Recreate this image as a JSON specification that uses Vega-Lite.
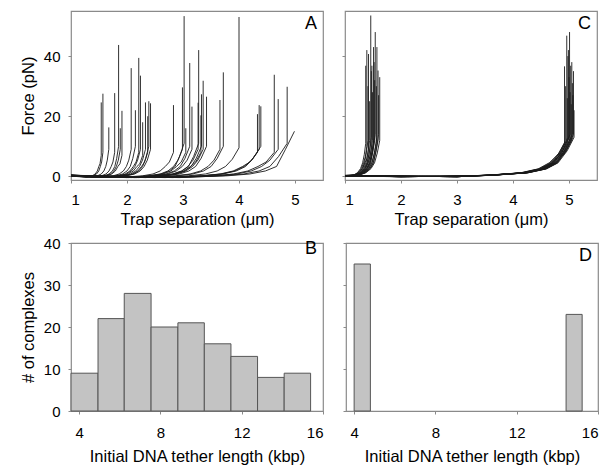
{
"$schema": "https://vega.github.io/schema/vega-lite/v6.json",
"padding": {"left": 19, "top": 10, "right": 5, "bottom": 5},
"config": {
 "font": "Liberation Sans",
 "view": {"stroke": "#8a8a8a", "strokeWidth": 1.2},
 "axis": {"domain": false, "grid": false, "tickColor": "#8a8a8a", "tickSize": 3, "labelFont": "Liberation Sans", "labelFontSize": 15, "labelColor": "#000", "titleFont": "Liberation Sans", "titleFontSize": 16.5, "titleFontWeight": "normal", "titleColor": "#000"},
 "title": {"fontSize": 18, "fontWeight": "normal", "font": "Liberation Sans", "color": "#000", "anchor": "end", "frame": "group", "offset": -22, "dx": -6}
},
"datasets": {
"a": [
{"c":1,"x":1,"f":0.3},{"c":1,"x":1.27,"f":-0.3},{"c":1,"x":1.378,"f":0.2},{"c":1,"x":1.432,"f":0.8},{"c":1,"x":1.47,"f":1.8},{"c":1,"x":1.497,"f":3.3},{"c":1,"x":1.518,"f":4.2},{"c":1,"x":1.54,"f":7},{"c":1,"x":1.54,"f":24.6},
{"c":2,"x":1,"f":0.1},{"c":2,"x":1.285,"f":-0.3},{"c":2,"x":1.399,"f":0.2},{"c":2,"x":1.456,"f":0.8},{"c":2,"x":1.496,"f":1.8},{"c":2,"x":1.524,"f":3.3},{"c":2,"x":1.547,"f":4.8},{"c":2,"x":1.57,"f":8},{"c":2,"x":1.57,"f":27.5},
{"c":3,"x":1,"f":0.4},{"c":3,"x":1.338,"f":-0.2},{"c":3,"x":1.473,"f":0.2},{"c":3,"x":1.54,"f":0.8},{"c":3,"x":1.587,"f":1.8},{"c":3,"x":1.621,"f":3.3},{"c":3,"x":1.648,"f":5.4},{"c":3,"x":1.675,"f":9},{"c":3,"x":1.675,"f":16.3},
{"c":4,"x":1,"f":0.2},{"c":4,"x":1.39,"f":-0.3},{"c":4,"x":1.546,"f":0.2},{"c":4,"x":1.624,"f":0.8},{"c":4,"x":1.679,"f":1.8},{"c":4,"x":1.718,"f":3.3},{"c":4,"x":1.749,"f":4.8},{"c":4,"x":1.78,"f":8},{"c":4,"x":1.78,"f":27.7},
{"c":5,"x":1,"f":0.3},{"c":5,"x":1.425,"f":-0.3},{"c":5,"x":1.595,"f":0.2},{"c":5,"x":1.68,"f":0.8},{"c":5,"x":1.74,"f":1.8},{"c":5,"x":1.782,"f":3.3},{"c":5,"x":1.816,"f":6},{"c":5,"x":1.85,"f":10},{"c":5,"x":1.85,"f":43.7},
{"c":6,"x":1,"f":0.1},{"c":6,"x":1.44,"f":-0.2},{"c":6,"x":1.616,"f":0.2},{"c":6,"x":1.704,"f":0.8},{"c":6,"x":1.766,"f":1.8},{"c":6,"x":1.81,"f":3.3},{"c":6,"x":1.845,"f":5.4},{"c":6,"x":1.88,"f":9},{"c":6,"x":1.88,"f":16},
{"c":7,"x":1,"f":0.4},{"c":7,"x":1.455,"f":-0.3},{"c":7,"x":1.637,"f":0.2},{"c":7,"x":1.728,"f":0.8},{"c":7,"x":1.792,"f":1.8},{"c":7,"x":1.837,"f":3.3},{"c":7,"x":1.874,"f":4.2},{"c":7,"x":1.91,"f":7},{"c":7,"x":1.91,"f":21.8},
{"c":8,"x":1,"f":0.2},{"c":8,"x":1.538,"f":-0.3},{"c":8,"x":1.753,"f":0.2},{"c":8,"x":1.86,"f":0.8},{"c":8,"x":1.935,"f":1.8},{"c":8,"x":1.989,"f":3.3},{"c":8,"x":2.032,"f":5.4},{"c":8,"x":2.075,"f":9},{"c":8,"x":2.075,"f":36},
{"c":9,"x":1,"f":0.3},{"c":9,"x":1.575,"f":-0.2},{"c":9,"x":1.805,"f":0.2},{"c":9,"x":1.92,"f":0.8},{"c":9,"x":2.0,"f":1.8},{"c":9,"x":2.058,"f":3.3},{"c":9,"x":2.104,"f":6},{"c":9,"x":2.15,"f":10},{"c":9,"x":2.15,"f":22},
{"c":10,"x":1,"f":0.1},{"c":10,"x":1.605,"f":-0.3},{"c":10,"x":1.847,"f":0.2},{"c":10,"x":1.968,"f":0.8},{"c":10,"x":2.053,"f":1.8},{"c":10,"x":2.113,"f":3.3},{"c":10,"x":2.162,"f":4.8},{"c":10,"x":2.21,"f":8},{"c":10,"x":2.21,"f":39.4},
{"c":11,"x":1,"f":0.4},{"c":11,"x":1.62,"f":-0.3},{"c":11,"x":1.868,"f":0.2},{"c":11,"x":1.992,"f":0.8},{"c":11,"x":2.079,"f":1.8},{"c":11,"x":2.141,"f":3.3},{"c":11,"x":2.19,"f":5.4},{"c":11,"x":2.24,"f":9},{"c":11,"x":2.24,"f":33.5},
{"c":12,"x":1,"f":0.2},{"c":12,"x":1.64,"f":-0.2},{"c":12,"x":1.896,"f":0.2},{"c":12,"x":2.024,"f":0.8},{"c":12,"x":2.114,"f":1.8},{"c":12,"x":2.178,"f":3.3},{"c":12,"x":2.229,"f":4.2},{"c":12,"x":2.28,"f":7},{"c":12,"x":2.28,"f":18},
{"c":13,"x":1,"f":0.3},{"c":13,"x":1.665,"f":-0.3},{"c":13,"x":1.931,"f":0.2},{"c":13,"x":2.064,"f":0.8},{"c":13,"x":2.157,"f":1.8},{"c":13,"x":2.224,"f":3.3},{"c":13,"x":2.277,"f":5.4},{"c":13,"x":2.33,"f":9},{"c":13,"x":2.33,"f":24.6},
{"c":14,"x":1,"f":0.1},{"c":14,"x":1.685,"f":-0.3},{"c":14,"x":1.959,"f":0.2},{"c":14,"x":2.096,"f":0.8},{"c":14,"x":2.192,"f":1.8},{"c":14,"x":2.26,"f":3.3},{"c":14,"x":2.315,"f":4.8},{"c":14,"x":2.37,"f":8},{"c":14,"x":2.37,"f":20},
{"c":15,"x":1,"f":0.4},{"c":15,"x":1.695,"f":-0.2},{"c":15,"x":1.973,"f":0.2},{"c":15,"x":2.112,"f":0.8},{"c":15,"x":2.209,"f":1.8},{"c":15,"x":2.279,"f":3.3},{"c":15,"x":2.334,"f":6},{"c":15,"x":2.39,"f":10},{"c":15,"x":2.39,"f":25},
{"c":16,"x":1,"f":0.2},{"c":16,"x":1.71,"f":-0.3},{"c":16,"x":1.994,"f":0.2},{"c":16,"x":2.136,"f":0.8},{"c":16,"x":2.235,"f":1.8},{"c":16,"x":2.306,"f":3.3},{"c":16,"x":2.363,"f":5.4},{"c":16,"x":2.42,"f":9},{"c":16,"x":2.42,"f":24.3},
{"c":17,"x":1,"f":0.3},{"c":17,"x":1.915,"f":-0.3},{"c":17,"x":2.281,"f":0.2},{"c":17,"x":2.464,"f":0.8},{"c":17,"x":2.592,"f":1.8},{"c":17,"x":2.684,"f":3.3},{"c":17,"x":2.757,"f":4.8},{"c":17,"x":2.83,"f":8},{"c":17,"x":2.83,"f":23.7},
{"c":18,"x":1,"f":0.1},{"c":18,"x":1.995,"f":-0.4},{"c":18,"x":2.393,"f":0.2},{"c":18,"x":2.592,"f":0.8},{"c":18,"x":2.731,"f":1.8},{"c":18,"x":2.831,"f":3.3},{"c":18,"x":2.91,"f":5.4},{"c":18,"x":2.99,"f":9},{"c":18,"x":2.99,"f":29.6},
{"c":19,"x":1,"f":0.4},{"c":19,"x":2.01,"f":-0.3},{"c":19,"x":2.414,"f":0.2},{"c":19,"x":2.616,"f":0.8},{"c":19,"x":2.757,"f":1.8},{"c":19,"x":2.858,"f":3.3},{"c":19,"x":2.939,"f":6.6},{"c":19,"x":3.02,"f":11},{"c":19,"x":3.02,"f":53.3},
{"c":20,"x":1,"f":0.2},{"c":20,"x":2.025,"f":-0.4},{"c":20,"x":2.435,"f":0.2},{"c":20,"x":2.64,"f":0.8},{"c":20,"x":2.784,"f":1.8},{"c":20,"x":2.886,"f":3.3},{"c":20,"x":2.968,"f":4.8},{"c":20,"x":3.05,"f":8},{"c":20,"x":3.05,"f":16},
{"c":21,"x":1,"f":0.3},{"c":21,"x":2.06,"f":-0.3},{"c":21,"x":2.484,"f":0.2},{"c":21,"x":2.696,"f":0.8},{"c":21,"x":2.844,"f":1.8},{"c":21,"x":2.95,"f":3.3},{"c":21,"x":3.035,"f":6},{"c":21,"x":3.12,"f":10},{"c":21,"x":3.12,"f":37.7},
{"c":22,"x":1,"f":0.1},{"c":22,"x":2.08,"f":-0.4},{"c":22,"x":2.512,"f":0.2},{"c":22,"x":2.728,"f":0.8},{"c":22,"x":2.879,"f":1.8},{"c":22,"x":2.987,"f":3.3},{"c":22,"x":3.074,"f":5.4},{"c":22,"x":3.16,"f":9},{"c":22,"x":3.16,"f":23.2},
{"c":23,"x":1,"f":0.4},{"c":23,"x":2.135,"f":-0.3},{"c":23,"x":2.589,"f":0.2},{"c":23,"x":2.816,"f":0.8},{"c":23,"x":2.975,"f":1.8},{"c":23,"x":3.088,"f":3.3},{"c":23,"x":3.179,"f":5.4},{"c":23,"x":3.27,"f":9},{"c":23,"x":3.27,"f":24.5},
{"c":24,"x":1,"f":0.2},{"c":24,"x":2.14,"f":-0.4},{"c":24,"x":2.596,"f":0.2},{"c":24,"x":2.824,"f":0.8},{"c":24,"x":2.984,"f":1.8},{"c":24,"x":3.098,"f":3.3},{"c":24,"x":3.189,"f":6.6},{"c":24,"x":3.28,"f":11},{"c":24,"x":3.28,"f":42},
{"c":25,"x":1,"f":0.3},{"c":25,"x":2.16,"f":-0.3},{"c":25,"x":2.624,"f":0.2},{"c":25,"x":2.856,"f":0.8},{"c":25,"x":3.018,"f":1.8},{"c":25,"x":3.134,"f":3.3},{"c":25,"x":3.227,"f":4.8},{"c":25,"x":3.32,"f":8},{"c":25,"x":3.32,"f":20.3},
{"c":26,"x":1,"f":0.1},{"c":26,"x":2.165,"f":-0.4},{"c":26,"x":2.631,"f":0.2},{"c":26,"x":2.864,"f":0.8},{"c":26,"x":3.027,"f":1.8},{"c":26,"x":3.144,"f":3.3},{"c":26,"x":3.237,"f":6},{"c":26,"x":3.33,"f":10},{"c":26,"x":3.33,"f":27.3},
{"c":27,"x":1,"f":0.4},{"c":27,"x":2.18,"f":-0.3},{"c":27,"x":2.652,"f":0.2},{"c":27,"x":2.888,"f":0.8},{"c":27,"x":3.053,"f":1.8},{"c":27,"x":3.171,"f":3.3},{"c":27,"x":3.266,"f":5.4},{"c":27,"x":3.36,"f":9},{"c":27,"x":3.36,"f":31.8},
{"c":28,"x":1,"f":0.2},{"c":28,"x":2.21,"f":-0.4},{"c":28,"x":2.694,"f":0.2},{"c":28,"x":2.936,"f":0.8},{"c":28,"x":3.105,"f":1.8},{"c":28,"x":3.226,"f":3.3},{"c":28,"x":3.323,"f":6},{"c":28,"x":3.42,"f":10},{"c":28,"x":3.42,"f":26.5},
{"c":29,"x":1,"f":0.3},{"c":29,"x":2.33,"f":-0.4},{"c":29,"x":2.862,"f":0.2},{"c":29,"x":3.128,"f":0.8},{"c":29,"x":3.314,"f":1.8},{"c":29,"x":3.447,"f":3.3},{"c":29,"x":3.554,"f":5.4},{"c":29,"x":3.66,"f":9},{"c":29,"x":3.66,"f":25.4},
{"c":30,"x":1,"f":0.1},{"c":30,"x":2.36,"f":-0.3},{"c":30,"x":2.904,"f":0.2},{"c":30,"x":3.176,"f":0.8},{"c":30,"x":3.366,"f":1.8},{"c":30,"x":3.502,"f":3.3},{"c":30,"x":3.611,"f":6},{"c":30,"x":3.72,"f":10},{"c":30,"x":3.72,"f":34.6},
{"c":31,"x":1,"f":0.4},{"c":31,"x":2.5,"f":-0.4},{"c":31,"x":3.1,"f":0.2},{"c":31,"x":3.4,"f":0.8},{"c":31,"x":3.61,"f":1.8},{"c":31,"x":3.76,"f":3.3},{"c":31,"x":3.88,"f":5.7},{"c":31,"x":4.0,"f":9.5},{"c":31,"x":4.0,"f":53},
{"c":32,"x":1,"f":0.2},{"c":32,"x":2.665,"f":-0.3},{"c":32,"x":3.331,"f":0.2},{"c":32,"x":3.664,"f":0.8},{"c":32,"x":3.897,"f":1.8},{"c":32,"x":4.064,"f":3.3},{"c":32,"x":4.197,"f":4.8},{"c":32,"x":4.33,"f":8},{"c":32,"x":4.33,"f":20.7},
{"c":33,"x":1,"f":0.3},{"c":33,"x":2.68,"f":-0.4},{"c":33,"x":3.352,"f":0.2},{"c":33,"x":3.688,"f":0.8},{"c":33,"x":3.923,"f":1.8},{"c":33,"x":4.091,"f":3.3},{"c":33,"x":4.226,"f":5.4},{"c":33,"x":4.36,"f":9},{"c":33,"x":4.36,"f":23.7},
{"c":34,"x":1,"f":0.1},{"c":34,"x":2.695,"f":-0.3},{"c":34,"x":3.373,"f":0.2},{"c":34,"x":3.712,"f":0.8},{"c":34,"x":3.949,"f":1.8},{"c":34,"x":4.119,"f":3.3},{"c":34,"x":4.254,"f":6},{"c":34,"x":4.39,"f":10},{"c":34,"x":4.39,"f":23.3},
{"c":35,"x":1,"f":0.4},{"c":35,"x":2.815,"f":-0.4},{"c":35,"x":3.541,"f":0.2},{"c":35,"x":3.904,"f":0.8},{"c":35,"x":4.158,"f":1.8},{"c":35,"x":4.34,"f":3.3},{"c":35,"x":4.485,"f":4.8},{"c":35,"x":4.63,"f":8},{"c":35,"x":4.63,"f":33.8},
{"c":36,"x":1,"f":0.2},{"c":36,"x":2.85,"f":-0.3},{"c":36,"x":3.59,"f":0.2},{"c":36,"x":3.96,"f":0.8},{"c":36,"x":4.219,"f":1.8},{"c":36,"x":4.404,"f":3.3},{"c":36,"x":4.552,"f":5.4},{"c":36,"x":4.7,"f":9},{"c":36,"x":4.7,"f":25.7},
{"c":37,"x":1,"f":0.3},{"c":37,"x":2.93,"f":-0.4},{"c":37,"x":3.702,"f":0.2},{"c":37,"x":4.088,"f":0.8},{"c":37,"x":4.358,"f":1.8},{"c":37,"x":4.551,"f":3.3},{"c":37,"x":4.706,"f":6.6},{"c":37,"x":4.86,"f":11},{"c":37,"x":4.86,"f":29.8},
{"c":38,"x":1,"f":0.1},{"c":38,"x":2.995,"f":-0.3},{"c":38,"x":3.793,"f":0.2},{"c":38,"x":4.192,"f":0.8},{"c":38,"x":4.471,"f":1.8},{"c":38,"x":4.671,"f":3.3},{"c":38,"x":4.83,"f":9},{"c":38,"x":4.99,"f":15}
],
"c": [
{"c":1,"x":1,"f":0.2},{"c":1,"x":1.148,"f":0.4},{"c":1,"x":1.222,"f":1.2},{"c":1,"x":1.278,"f":2.6},{"c":1,"x":1.315,"f":4.5},{"c":1,"x":1.344,"f":7.2},{"c":1,"x":1.37,"f":11},{"c":1,"x":1.37,"f":36.8},
{"c":2,"x":1,"f":0.3},{"c":2,"x":1.156,"f":0.4},{"c":2,"x":1.234,"f":1.2},{"c":2,"x":1.293,"f":2.6},{"c":2,"x":1.332,"f":4.5},{"c":2,"x":1.363,"f":6.5},{"c":2,"x":1.39,"f":10},{"c":2,"x":1.39,"f":42},
{"c":3,"x":1,"f":0.1},{"c":3,"x":1.164,"f":0.4},{"c":3,"x":1.246,"f":1.2},{"c":3,"x":1.308,"f":2.6},{"c":3,"x":1.349,"f":4.5},{"c":3,"x":1.381,"f":7.8},{"c":3,"x":1.41,"f":12},{"c":3,"x":1.41,"f":30},
{"c":4,"x":1,"f":0.2},{"c":4,"x":1.168,"f":0.4},{"c":4,"x":1.252,"f":1.2},{"c":4,"x":1.315,"f":2.6},{"c":4,"x":1.357,"f":4.5},{"c":4,"x":1.391,"f":5.9},{"c":4,"x":1.42,"f":9},{"c":4,"x":1.42,"f":40.7},
{"c":5,"x":1,"f":0.3},{"c":5,"x":1.176,"f":0.4},{"c":5,"x":1.264,"f":1.2},{"c":5,"x":1.33,"f":2.6},{"c":5,"x":1.374,"f":4.5},{"c":5,"x":1.409,"f":7.8},{"c":5,"x":1.44,"f":12},{"c":5,"x":1.44,"f":25},
{"c":6,"x":1,"f":0.1},{"c":6,"x":1.184,"f":0.4},{"c":6,"x":1.276,"f":1.2},{"c":6,"x":1.345,"f":2.6},{"c":6,"x":1.391,"f":4.5},{"c":6,"x":1.428,"f":7.2},{"c":6,"x":1.46,"f":11},{"c":6,"x":1.46,"f":53.5},
{"c":7,"x":1,"f":0.2},{"c":7,"x":1.188,"f":0.4},{"c":7,"x":1.282,"f":1.2},{"c":7,"x":1.353,"f":2.6},{"c":7,"x":1.4,"f":4.5},{"c":7,"x":1.437,"f":8.5},{"c":7,"x":1.47,"f":13},{"c":7,"x":1.47,"f":35},
{"c":8,"x":1,"f":0.3},{"c":8,"x":1.192,"f":0.4},{"c":8,"x":1.288,"f":1.2},{"c":8,"x":1.36,"f":2.6},{"c":8,"x":1.408,"f":4.5},{"c":8,"x":1.446,"f":6.5},{"c":8,"x":1.48,"f":10},{"c":8,"x":1.48,"f":36.8},
{"c":9,"x":1,"f":0.1},{"c":9,"x":1.196,"f":0.4},{"c":9,"x":1.294,"f":1.2},{"c":9,"x":1.368,"f":2.6},{"c":9,"x":1.417,"f":4.5},{"c":9,"x":1.456,"f":7.8},{"c":9,"x":1.49,"f":12},{"c":9,"x":1.49,"f":28},
{"c":10,"x":1,"f":0.2},{"c":10,"x":1.204,"f":0.4},{"c":10,"x":1.306,"f":1.2},{"c":10,"x":1.383,"f":2.6},{"c":10,"x":1.434,"f":4.5},{"c":10,"x":1.474,"f":7.2},{"c":10,"x":1.51,"f":11},{"c":10,"x":1.51,"f":43},
{"c":11,"x":1,"f":0.3},{"c":11,"x":1.208,"f":0.4},{"c":11,"x":1.312,"f":1.2},{"c":11,"x":1.39,"f":2.6},{"c":11,"x":1.442,"f":4.5},{"c":11,"x":1.484,"f":8.5},{"c":11,"x":1.52,"f":13},{"c":11,"x":1.52,"f":38},
{"c":12,"x":1,"f":0.1},{"c":12,"x":1.212,"f":0.4},{"c":12,"x":1.318,"f":1.2},{"c":12,"x":1.398,"f":2.6},{"c":12,"x":1.451,"f":4.5},{"c":12,"x":1.493,"f":7.8},{"c":12,"x":1.53,"f":12},{"c":12,"x":1.53,"f":32},
{"c":13,"x":1,"f":0.2},{"c":13,"x":1.216,"f":0.4},{"c":13,"x":1.324,"f":1.2},{"c":13,"x":1.405,"f":2.6},{"c":13,"x":1.459,"f":4.5},{"c":13,"x":1.502,"f":9.1},{"c":13,"x":1.54,"f":14},{"c":13,"x":1.54,"f":48},
{"c":14,"x":1,"f":0.3},{"c":14,"x":1.224,"f":0.4},{"c":14,"x":1.336,"f":1.2},{"c":14,"x":1.42,"f":2.6},{"c":14,"x":1.476,"f":4.5},{"c":14,"x":1.521,"f":7.2},{"c":14,"x":1.56,"f":11},{"c":14,"x":1.56,"f":30},
{"c":15,"x":1,"f":0.1},{"c":15,"x":1.228,"f":0.4},{"c":15,"x":1.342,"f":1.2},{"c":15,"x":1.428,"f":2.6},{"c":15,"x":1.485,"f":4.5},{"c":15,"x":1.53,"f":8.5},{"c":15,"x":1.57,"f":13},{"c":15,"x":1.57,"f":43},
{"c":16,"x":1,"f":0.2},{"c":16,"x":1.236,"f":0.4},{"c":16,"x":1.354,"f":1.2},{"c":16,"x":1.443,"f":2.6},{"c":16,"x":1.502,"f":4.5},{"c":16,"x":1.549,"f":7.8},{"c":16,"x":1.59,"f":12},{"c":16,"x":1.59,"f":35.2},
{"c":17,"x":1,"f":0.3},{"c":17,"x":1.24,"f":0.4},{"c":17,"x":1.36,"f":1.2},{"c":17,"x":1.45,"f":2.6},{"c":17,"x":1.51,"f":4.5},{"c":17,"x":1.558,"f":9.1},{"c":17,"x":1.6,"f":14},{"c":17,"x":1.6,"f":27},
{"c":18,"x":1,"f":0.1},{"c":18,"x":1.248,"f":0.4},{"c":18,"x":1.372,"f":1.2},{"c":18,"x":1.465,"f":2.6},{"c":18,"x":1.527,"f":4.5},{"c":18,"x":1.577,"f":7.8},{"c":18,"x":1.62,"f":12},{"c":18,"x":1.62,"f":33},
{"c":19,"x":1,"f":0.2},{"c":19,"x":2,"f":0.1},{"c":19,"x":3,"f":-0.1},{"c":19,"x":3.548,"f":0.4},{"c":19,"x":4.136,"f":1.2},{"c":19,"x":4.45,"f":2.5},{"c":19,"x":4.646,"f":4.5},{"c":19,"x":4.802,"f":7.2},{"c":19,"x":4.92,"f":11},{"c":19,"x":4.92,"f":36.6},
{"c":20,"x":1,"f":0.3},{"c":20,"x":2,"f":-0.1},{"c":20,"x":3,"f":0.1},{"c":20,"x":3.561,"f":0.4},{"c":20,"x":4.152,"f":1.2},{"c":20,"x":4.467,"f":2.5},{"c":20,"x":4.664,"f":4.5},{"c":20,"x":4.822,"f":7.8},{"c":20,"x":4.94,"f":12},{"c":20,"x":4.94,"f":30},
{"c":21,"x":1,"f":0.1},{"c":21,"x":2,"f":0.1},{"c":21,"x":3,"f":-0.1},{"c":21,"x":3.574,"f":0.4},{"c":21,"x":4.168,"f":1.2},{"c":21,"x":4.485,"f":2.5},{"c":21,"x":4.683,"f":4.5},{"c":21,"x":4.841,"f":7.8},{"c":21,"x":4.96,"f":12},{"c":21,"x":4.96,"f":46.8},
{"c":22,"x":1,"f":0.2},{"c":22,"x":2,"f":-0.1},{"c":22,"x":3,"f":0.1},{"c":22,"x":3.581,"f":0.4},{"c":22,"x":4.176,"f":1.2},{"c":22,"x":4.494,"f":2.5},{"c":22,"x":4.692,"f":4.5},{"c":22,"x":4.851,"f":7.2},{"c":22,"x":4.97,"f":11},{"c":22,"x":4.97,"f":26},
{"c":23,"x":1,"f":0.3},{"c":23,"x":2,"f":0.1},{"c":23,"x":3,"f":-0.1},{"c":23,"x":3.587,"f":0.4},{"c":23,"x":4.184,"f":1.2},{"c":23,"x":4.502,"f":2.5},{"c":23,"x":4.701,"f":4.5},{"c":23,"x":4.861,"f":8.5},{"c":23,"x":4.98,"f":13},{"c":23,"x":4.98,"f":40},
{"c":24,"x":1,"f":0.1},{"c":24,"x":2,"f":-0.1},{"c":24,"x":3,"f":0.1},{"c":24,"x":3.594,"f":0.4},{"c":24,"x":4.192,"f":1.2},{"c":24,"x":4.511,"f":2.5},{"c":24,"x":4.711,"f":4.5},{"c":24,"x":4.87,"f":7.8},{"c":24,"x":4.99,"f":12},{"c":24,"x":4.99,"f":42},
{"c":25,"x":1,"f":0.2},{"c":25,"x":2,"f":0.1},{"c":25,"x":3,"f":-0.1},{"c":25,"x":3.6,"f":0.4},{"c":25,"x":4.2,"f":1.2},{"c":25,"x":4.52,"f":2.5},{"c":25,"x":4.72,"f":4.5},{"c":25,"x":4.88,"f":8.5},{"c":25,"x":5.0,"f":13},{"c":25,"x":5.0,"f":33},
{"c":26,"x":1,"f":0.3},{"c":26,"x":2,"f":-0.1},{"c":26,"x":3,"f":0.1},{"c":26,"x":3.607,"f":0.4},{"c":26,"x":4.208,"f":1.2},{"c":26,"x":4.529,"f":2.5},{"c":26,"x":4.729,"f":4.5},{"c":26,"x":4.89,"f":7.8},{"c":26,"x":5.01,"f":12},{"c":26,"x":5.01,"f":48},
{"c":27,"x":1,"f":0.1},{"c":27,"x":2,"f":0.1},{"c":27,"x":3,"f":-0.1},{"c":27,"x":3.613,"f":0.4},{"c":27,"x":4.216,"f":1.2},{"c":27,"x":4.538,"f":2.5},{"c":27,"x":4.739,"f":4.5},{"c":27,"x":4.899,"f":9.1},{"c":27,"x":5.02,"f":14},{"c":27,"x":5.02,"f":28},
{"c":28,"x":1,"f":0.2},{"c":28,"x":2,"f":-0.1},{"c":28,"x":3,"f":0.1},{"c":28,"x":3.62,"f":0.4},{"c":28,"x":4.224,"f":1.2},{"c":28,"x":4.546,"f":2.5},{"c":28,"x":4.748,"f":4.5},{"c":28,"x":4.909,"f":7.8},{"c":28,"x":5.03,"f":12},{"c":28,"x":5.03,"f":36.8},
{"c":29,"x":1,"f":0.3},{"c":29,"x":2,"f":0.1},{"c":29,"x":3,"f":-0.1},{"c":29,"x":3.626,"f":0.4},{"c":29,"x":4.232,"f":1.2},{"c":29,"x":4.555,"f":2.5},{"c":29,"x":4.757,"f":4.5},{"c":29,"x":4.919,"f":8.5},{"c":29,"x":5.04,"f":13},{"c":29,"x":5.04,"f":24},
{"c":30,"x":1,"f":0.1},{"c":30,"x":2,"f":-0.1},{"c":30,"x":3,"f":0.1},{"c":30,"x":3.633,"f":0.4},{"c":30,"x":4.24,"f":1.2},{"c":30,"x":4.564,"f":2.5},{"c":30,"x":4.767,"f":4.5},{"c":30,"x":4.929,"f":7.8},{"c":30,"x":5.05,"f":12},{"c":30,"x":5.05,"f":38},
{"c":31,"x":1,"f":0.2},{"c":31,"x":2,"f":0.1},{"c":31,"x":3,"f":-0.1},{"c":31,"x":3.639,"f":0.4},{"c":31,"x":4.248,"f":1.2},{"c":31,"x":4.573,"f":2.5},{"c":31,"x":4.776,"f":4.5},{"c":31,"x":4.938,"f":9.1},{"c":31,"x":5.06,"f":14},{"c":31,"x":5.06,"f":31},
{"c":32,"x":1,"f":0.3},{"c":32,"x":2,"f":-0.1},{"c":32,"x":3,"f":0.1},{"c":32,"x":3.646,"f":0.4},{"c":32,"x":4.256,"f":1.2},{"c":32,"x":4.582,"f":2.5},{"c":32,"x":4.785,"f":4.5},{"c":32,"x":4.948,"f":8.5},{"c":32,"x":5.07,"f":13},{"c":32,"x":5.07,"f":27},
{"c":33,"x":1,"f":0.1},{"c":33,"x":2,"f":0.1},{"c":33,"x":3,"f":-0.1},{"c":33,"x":3.652,"f":0.4},{"c":33,"x":4.264,"f":1.2},{"c":33,"x":4.59,"f":2.5},{"c":33,"x":4.794,"f":4.5},{"c":33,"x":4.958,"f":9.1},{"c":33,"x":5.08,"f":14},{"c":33,"x":5.08,"f":35},
{"c":34,"x":1,"f":0.2},{"c":34,"x":2,"f":-0.1},{"c":34,"x":3,"f":0.1},{"c":34,"x":3.659,"f":0.4},{"c":34,"x":4.272,"f":1.2},{"c":34,"x":4.599,"f":2.5},{"c":34,"x":4.804,"f":4.5},{"c":34,"x":4.967,"f":8.5},{"c":34,"x":5.09,"f":13},{"c":34,"x":5.09,"f":22}
],
"b": [
{"s":3.6,"e":4.93,"n":9},{"s":4.93,"e":6.22,"n":22},{"s":6.22,"e":7.54,"n":28},{"s":7.54,"e":8.86,"n":20},{"s":8.86,"e":10.16,"n":21},{"s":10.16,"e":11.47,"n":16},{"s":11.47,"e":12.78,"n":13},{"s":12.78,"e":14.09,"n":8},{"s":14.09,"e":15.39,"n":9}
],
"d": [
{"s":4.0,"e":4.8,"n":35},{"s":14.43,"e":15.22,"n":23}
]
},
"vconcat": [
 {"hconcat": [
  {"width": 252, "height": 169, "data": {"name": "a"},
   "title": {"text": "A"},
   "mark": {"type": "line", "color": "#1a1a1a", "strokeWidth": 0.9},
   "encoding": {
    "x": {"field": "x", "type": "quantitative", "scale": {"domain": [1, 5.5], "nice": false, "zero": false}, "axis": {"values": [1,2,3,4,5], "title": "Trap separation (μm)", "labelPadding": 9, "titlePadding": 4}},
    "y": {"field": "f", "type": "quantitative", "scale": {"domain": [-1.2, 55], "nice": false, "zero": false}, "axis": {"values": [0,20,40], "title": "Force (pN)", "labelPadding": 8, "titlePadding": 7}},
    "detail": {"field": "c", "type": "nominal"},
    "order": {"value": null}
   }},
  {"width": 252, "height": 169, "data": {"name": "c"},
   "title": {"text": "C"},
   "mark": {"type": "line", "color": "#1a1a1a", "strokeWidth": 0.9},
   "encoding": {
    "x": {"field": "x", "type": "quantitative", "scale": {"domain": [1, 5.5], "nice": false, "zero": false}, "axis": {"values": [1,2,3,4,5], "title": "Trap separation (μm)", "labelPadding": 9, "titlePadding": 4}},
    "y": {"field": "f", "type": "quantitative", "scale": {"domain": [-1.2, 55], "nice": false, "zero": false}, "axis": {"values": [0,20,40], "title": null, "labels": false}},
    "detail": {"field": "c", "type": "nominal"},
    "order": {"value": null}
   }}
 ], "spacing": 16},
 {"hconcat": [
  {"width": 252, "height": 168, "data": {"name": "b"},
   "title": {"text": "B"},
   "mark": {"type": "bar", "fill": "#c3c3c3", "stroke": "#555555", "strokeWidth": 1},
   "encoding": {
    "x": {"field": "s", "type": "quantitative", "scale": {"domain": [3.6, 16], "nice": false, "zero": false}, "axis": {"values": [4,8,12,16], "title": "Initial DNA tether length (kbp)", "labelPadding": 11, "titlePadding": 8}},
    "x2": {"field": "e"},
    "y": {"field": "n", "type": "quantitative", "scale": {"domain": [0, 40], "nice": false}, "axis": {"values": [0,10,20,30,40], "title": "# of complexes", "labelPadding": 8, "titlePadding": 7}},
    "y2": {"datum": 0}
   }},
  {"width": 252, "height": 168, "data": {"name": "d"},
   "title": {"text": "D"},
   "mark": {"type": "bar", "fill": "#c3c3c3", "stroke": "#555555", "strokeWidth": 1},
   "encoding": {
    "x": {"field": "s", "type": "quantitative", "scale": {"domain": [3.6, 16], "nice": false, "zero": false}, "axis": {"values": [4,8,12,16], "title": "Initial DNA tether length (kbp)", "labelPadding": 11, "titlePadding": 8}},
    "x2": {"field": "e"},
    "y": {"field": "n", "type": "quantitative", "scale": {"domain": [0, 40], "nice": false}, "axis": {"values": [0,10,20,30,40], "title": null, "labels": false}},
    "y2": {"datum": 0}
   }}
 ], "spacing": 16}
],
"spacing": 6
}
